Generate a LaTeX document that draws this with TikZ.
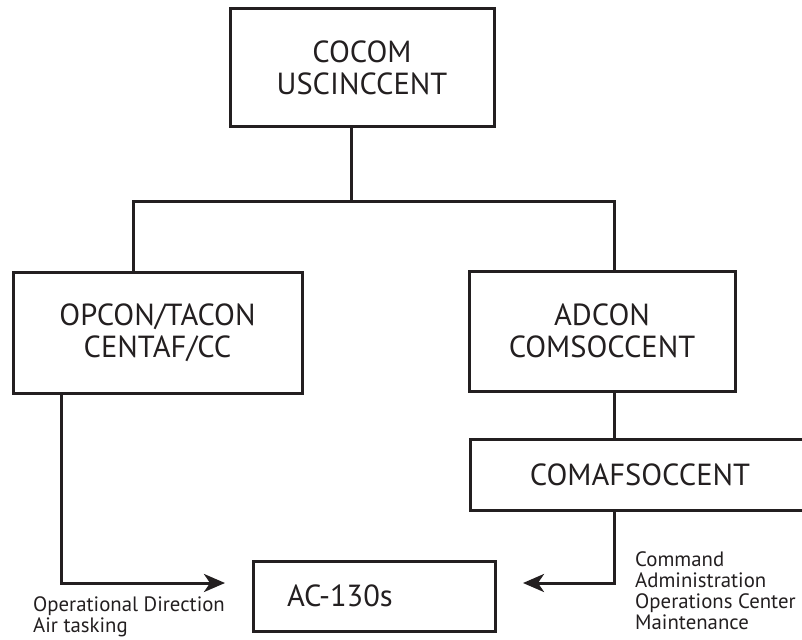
\documentclass[tikz,border=0pt]{standalone}
\usepackage{fontspec}
\setmainfont{PT Sans}
\usetikzlibrary{arrows.meta}
\definecolor{ink}{HTML}{231F20}
\tikzset{
  box/.style={draw=ink, line width=3pt, inner sep=0pt, align=center, text=ink,
    font=\fontsize{30.5}{32}\selectfont},
  conn/.style={draw=ink, line width=3pt},
  arr/.style={conn, -{Stealth[length=21pt,width=18pt,inset=6pt]}},
  lbl/.style={text=ink, align=left, inner sep=0pt, font=\fontsize{20.8}{21}\selectfont}
}
\begin{document}
\begin{tikzpicture}[x=1pt,y=-1pt]
\useasboundingbox (0,0) rectangle (802,639);
\node[box, minimum width=264pt, minimum height=118pt] (top) at (362,68) {COCOM\\USCINCCENT};
\node[box, minimum width=289pt, minimum height=121pt] (opcon) at (157.5,332.5) {OPCON/TACON\\CENTAF/CC};
\node[box, minimum width=266pt, minimum height=120pt] (adcon) at (602,331) {ADCON\\COMSOCCENT};
\node[box, minimum width=340pt, minimum height=71pt] (comaf) at (640,474.5) {COMAFSOCCENT};
\node[box, text width=174pt, inner xsep=34pt, minimum height=70pt, align=left] (ac) at (374,596) {AC-130s};
\coordinate (jt) at (351,201);
\coordinate (jl) at (133,201);
\coordinate (jr) at (614,201);
\coordinate (la) at (225,583);
\coordinate (ra) at (523,583);
\coordinate (lx) at (61,0);
\draw[conn] (top.south -| jt) -- (jt);
\draw[conn] (opcon.north -| jl) -- (jl) -- (jr) -- (adcon.north -| jr);
\draw[conn] (adcon.south -| jr) -- (comaf.north -| jr);
\draw[arr] (opcon.south -| lx) |- (la);
\draw[arr] (comaf.south -| jr) |- (ra);
\node[lbl, anchor=west] (l1) at (33,616.5) {Operational Direction\\Air tasking};
\node[lbl, anchor=west] (l2) at (635,591) {Command\\Administration\\Operations Center\\Maintenance};
\end{tikzpicture}
\end{document}
